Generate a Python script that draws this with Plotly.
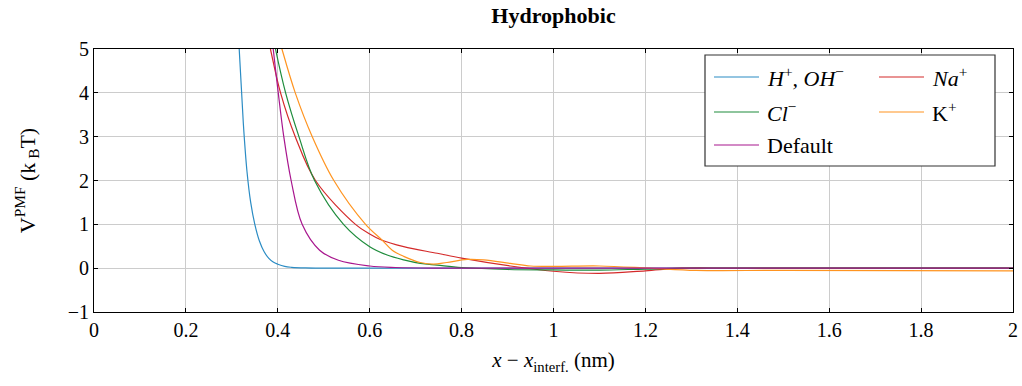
import plotly.graph_objects as go

# ---- data ----
h_oh_x = [0.305, 0.316, 0.325, 0.333, 0.341, 0.350, 0.360, 0.370, 0.380, 0.390, 0.400, 0.415, 0.430, 0.460, 0.500, 0.700, 1.000, 1.500, 2.000]
h_oh_y = [7.0, 5.0, 3.3, 2.2, 1.5, 1.0, 0.62, 0.38, 0.23, 0.14, 0.09, 0.04, 0.02, 0.005, 0.0, 0.0, 0.0, 0.0, 0.0]

na_x = [0.374, 0.384, 0.406, 0.438, 0.482, 0.569, 0.600, 0.623, 0.674, 0.747, 0.800, 0.906, 1.000, 1.100, 1.200, 1.280, 1.400, 2.000]
na_y = [5.5, 5.0, 4.0, 3.0, 2.0, 1.0, 0.78, 0.655, 0.49, 0.34, 0.23, 0.05, -0.07, -0.12, -0.06, 0.0, 0.0, 0.0]

cl_x = [0.386, 0.395, 0.417, 0.446, 0.480, 0.543, 0.600, 0.638, 0.674, 0.710, 0.747, 0.800, 0.900, 1.000, 1.100, 1.200, 1.300, 2.000]
cl_y = [5.5, 5.0, 4.0, 3.0, 2.0, 1.0, 0.49, 0.30, 0.19, 0.11, 0.07, 0.015, -0.03, -0.04, -0.045, -0.02, 0.0, 0.0]

k_x = [0.396, 0.409, 0.438, 0.475, 0.522, 0.591, 0.627, 0.649, 0.674, 0.710, 0.739, 0.768, 0.812, 0.848, 0.906, 0.950, 1.000, 1.100, 1.210, 1.310, 1.500, 2.000]
k_y = [5.5, 5.0, 4.0, 3.0, 2.0, 1.0, 0.64, 0.41, 0.27, 0.13, 0.09, 0.13, 0.20, 0.19, 0.11, 0.05, 0.04, 0.05, 0.0, -0.05, -0.05, -0.06]

default_x = [0.385, 0.390, 0.401, 0.413, 0.429, 0.453, 0.491, 0.532, 0.600, 0.656, 0.750, 1.000, 1.500, 2.000]
default_y = [5.5, 5.0, 4.0, 3.0, 2.0, 1.0, 0.41, 0.18, 0.05, 0.015, 0.0, 0.0, 0.0, 0.0]

x_ticks = [0, 0.2, 0.4, 0.6, 0.8, 1, 1.2, 1.4, 1.6, 1.8, 2]
y_ticks = [-1, 0, 1, 2, 3, 4, 5]

series = [
    ("<i>H</i><sup>+</sup><i>,</i> <i>OH</i><sup>−</sup>", h_oh_x, h_oh_y, "#2B8CC4"),
    ("<i>Na</i><sup>+</sup>", na_x, na_y, "#D42A2A"),
    ("<i>Cl</i><sup>−</sup>", cl_x, cl_y, "#1E8C3C"),
    ("K<sup>+</sup>", k_x, k_y, "#FF9420"),
    ("Default", default_x, default_y, "#A8168E"),
]

FONT = "Liberation Serif, Times New Roman, serif"

fig = go.Figure()
for name, xs, ys, col in series:
    fig.add_trace(go.Scatter(x=xs, y=ys, mode="lines", name=name,
                             line=dict(color=col, width=1.2, shape="spline", smoothing=1.0),
                             showlegend=False, hoverinfo="skip"))

W, H = 1022, 386
ml, mr, mt, mb = 94, 9, 49, 74
pw, ph = W - ml - mr, H - mt - mb

def px2paper(px, py):
    return (px - ml) / pw, (H - mb - py) / ph

# manual legend (2 columns, row-major like the reference)
shapes = []
annotations = []
x0, y0 = px2paper(705, 55)
x1, y1 = px2paper(995, 166)
shapes.append(dict(type="rect", xref="paper", yref="paper", x0=x0, y0=y1, x1=x1, y1=y0,
                   line=dict(color="#333333", width=1.2), fillcolor="white", layer="above"))
slots = [(714, 77), (879, 77), (714, 112), (879, 112), (714, 145)]
for (sx, sy), idx in zip(slots, range(5)):
    name, _, _, col = series[idx]
    a, b = px2paper(sx, sy)
    c, _ = px2paper(sx + 45, sy)
    shapes.append(dict(type="line", xref="paper", yref="paper", x0=a, x1=c, y0=b, y1=b,
                       line=dict(color=col, width=1.2), layer="above"))
    t, _ = px2paper(sx + 51, sy)
    annotations.append(dict(text=name, xref="paper", yref="paper", x=t, y=b,
                            xanchor="left", yanchor="middle", showarrow=False,
                            font=dict(family=FONT, size=22, color="black")))

fig.update_layout(
    width=W, height=H,
    margin=dict(l=ml, r=mr, t=mt, b=mb, autoexpand=False),
    paper_bgcolor="white", plot_bgcolor="white",
    font=dict(family=FONT, size=20, color="black"),
    title=dict(text="<b>Hydrophobic</b>", x=(ml + pw / 2) / W, xanchor="center",
               y=1 - 15 / H, yanchor="middle", font=dict(family=FONT, size=22)),
    shapes=shapes, annotations=annotations,
)
fig.update_xaxes(range=[0, 2], tickvals=x_ticks, ticktext=[("%g" % v) for v in x_ticks],
                 showgrid=True, gridcolor="#CCCCCC", gridwidth=1, automargin=False,
                 showline=True, linecolor="black", linewidth=1, mirror="allticks",
                 ticks="inside", ticklen=4, tickcolor="black", zeroline=False,
                 title=dict(text="<i>x</i> − <i>x</i><sub>interf.</sub> (nm)", standoff=12,
                            font=dict(family=FONT, size=21)))
fig.update_yaxes(range=[-1, 5], tickvals=y_ticks, automargin=False,
                 showgrid=True, gridcolor="#CCCCCC", gridwidth=1,
                 showline=True, linecolor="black", linewidth=1, mirror="allticks",
                 ticks="inside", ticklen=4, tickcolor="black", zeroline=False,
                 title=dict(text="V<sup>PMF</sup> (k<sub> B</sub>T)", standoff=26,
                            font=dict(family=FONT, size=22)))

fig.write_html("out.html", config={"displayModeBar": False},
               post_script="document.body.style.margin='0';document.body.style.overflow='hidden';")
